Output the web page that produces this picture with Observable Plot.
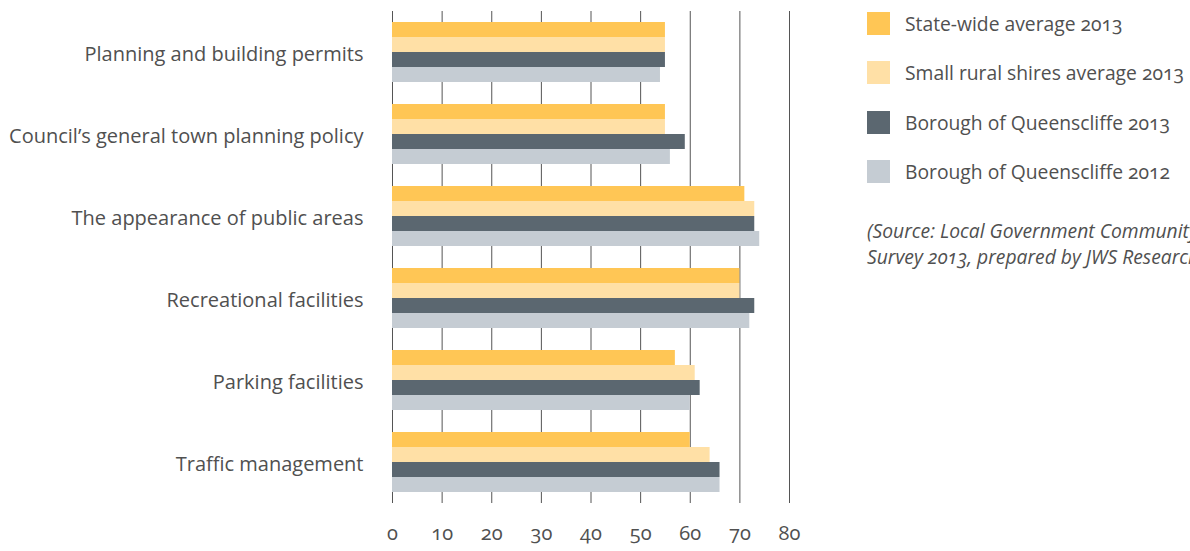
<!DOCTYPE html>
<html>
<head>
<meta charset="utf-8">
<script src="https://cdn.jsdelivr.net/npm/d3@7"></script>
<script src="https://cdn.jsdelivr.net/npm/@observablehq/plot@0.6"></script>
<style>
  html, body { margin: 0; padding: 0; background: #fff; overflow: hidden; }
  body { width: 1190px; height: 551px; position: relative; font-family: "Open Sans", sans-serif; color: #505050; font-feature-settings: "onum"; }
  #chart { position: absolute; left: 0; top: 0; }
  #chart svg text { font-feature-settings: "onum"; }
  #legend { position: absolute; left: 867px; top: 12px; }
  .item { display: flex; align-items: center; height: 23px; margin-bottom: 26.4px; white-space: nowrap; }
  .sw { width: 23px; height: 23px; margin-right: 15px; flex: none; }
  .lab { font-size: 19.3px; line-height: 23px; }
  #source { position: absolute; left: 867px; top: 218px; font-style: italic; font-size: 19.3px; line-height: 26px; white-space: nowrap; }
</style>
</head>
<body>
<div id="chart"></div>
<div id="legend"></div>
<div id="source"></div>
<script>
const categories = [
  "Planning and building permits",
  "Council\u2019s general town planning policy",
  "The appearance of public areas",
  "Recreational facilities",
  "Parking facilities",
  "Traffic management"
];
const seriesNames = [
  "State-wide average 2013",
  "Small rural shires average 2013",
  "Borough of Queenscliffe 2013",
  "Borough of Queenscliffe 2012"
];
const stateWide2013   = [55, 55, 71, 70, 57, 60];
const smallRural2013  = [55, 55, 73, 70, 61, 64];
const queenscliffe2013 = [55, 59, 73, 73, 62, 66];
const queenscliffe2012 = [54, 56, 74, 72, 60, 66];
const seriesColors = ["#FFC655", "#FFE0A6", "#5B6770", "#C5CCD3"];
const xTicks = [0, 10, 20, 30, 40, 50, 60, 70, 80];
const sourceLines = [
  "(Source: Local Government Community Satisfaction",
  "Survey 2013, prepared by JWS Research)"
];

const seriesValues = [stateWide2013, smallRural2013, queenscliffe2013, queenscliffe2012];
const data = categories.flatMap((c, i) =>
  seriesNames.map((s, j) => ({category: c, series: s, value: seriesValues[j][i]}))
);

const chart = Plot.plot({
  width: 810,
  height: 551,
  marginLeft: 392,
  marginRight: 21,
  marginTop: 9,
  marginBottom: 47,
  style: {fontFamily: "'Open Sans', sans-serif", fontSize: "20px", color: "#505050", background: "transparent"},
  x: {domain: [0, 80], ticks: xTicks, tickSize: 0, tickPadding: 22, label: null},
  y: {domain: seriesNames, axis: null, paddingInner: 0, paddingOuter: 0.58},
  fy: {domain: categories, padding: 0, label: null},
  color: {domain: seriesNames, range: seriesColors},
  marks: [
    Plot.ruleX(xTicks, {stroke: "#555", strokeWidth: 1}),
    Plot.barX(data, {fy: "category", y: "series", x: "value", fill: "series"}),
    Plot.axisFy({anchor: "left", tickSize: 0, tickPadding: 29, dy: 2, label: null})
  ]
});
document.getElementById("chart").appendChild(chart);

const legend = document.getElementById("legend");
seriesNames.forEach((s, j) => {
  const it = document.createElement("div");
  it.className = "item";
  const sw = document.createElement("div");
  sw.className = "sw";
  sw.style.background = seriesColors[j];
  const lab = document.createElement("span");
  lab.className = "lab";
  lab.textContent = s;
  it.appendChild(sw);
  it.appendChild(lab);
  legend.appendChild(it);
});
const src = document.getElementById("source");
sourceLines.forEach(l => {
  const d = document.createElement("div");
  d.textContent = l;
  src.appendChild(d);
});
</script>
</body>
</html>
